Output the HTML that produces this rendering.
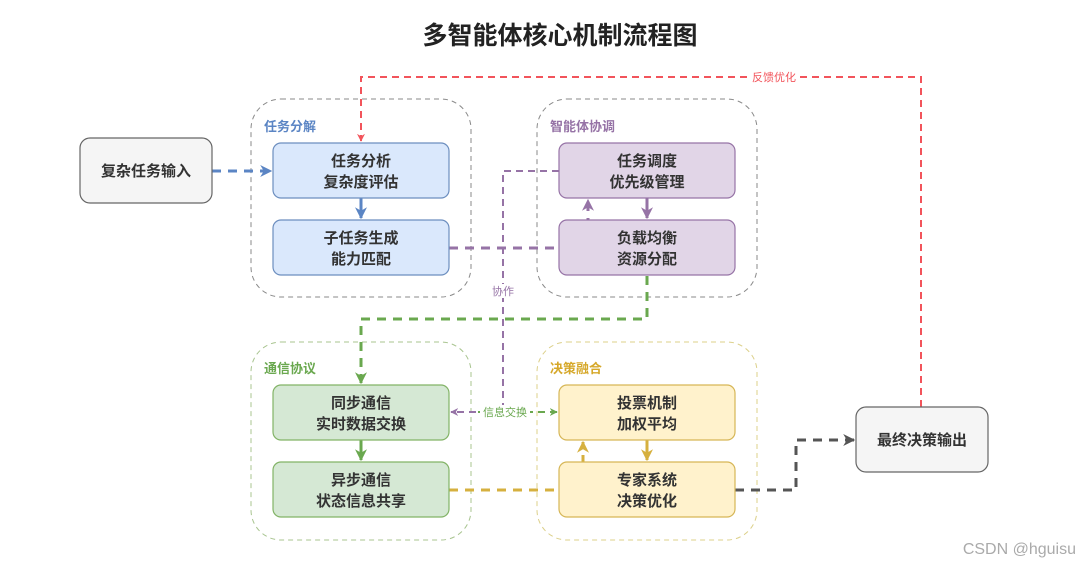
<!DOCTYPE html>
<html><head><meta charset="utf-8">
<style>
html,body{margin:0;padding:0;background:#fff;}
svg{display:block;}
text{font-family:"Liberation Sans","Noto Sans CJK SC",sans-serif;}
.n{font-size:15px;font-weight:bold;fill:#333;text-anchor:middle;}
.g{font-size:13px;font-weight:bold;}
.l{font-size:11px;text-anchor:middle;}
</style></head>
<body>
<svg width="1080" height="566" viewBox="0 0 1080 566" xmlns="http://www.w3.org/2000/svg">
<defs>
<marker id="ab" viewBox="0 0 10 10" refX="9" refY="5" markerWidth="4" markerHeight="4" orient="auto"><path d="M0,0L10,5L0,10L3,5z" fill="#5b85c4"/></marker>
<marker id="ap" viewBox="0 0 10 10" refX="9" refY="5" markerWidth="4" markerHeight="4" orient="auto"><path d="M0,0L10,5L0,10L3,5z" fill="#9673a6"/></marker>
<marker id="ag" viewBox="0 0 10 10" refX="9" refY="5" markerWidth="4" markerHeight="4" orient="auto"><path d="M0,0L10,5L0,10L3,5z" fill="#6aa84f"/></marker>
<marker id="ay" viewBox="0 0 10 10" refX="9" refY="5" markerWidth="4" markerHeight="4" orient="auto"><path d="M0,0L10,5L0,10L3,5z" fill="#d6b03f"/></marker>
<marker id="ak" viewBox="0 0 10 10" refX="9" refY="5" markerWidth="4" markerHeight="4" orient="auto"><path d="M0,0L10,5L0,10L3,5z" fill="#555"/></marker>
<marker id="ar" viewBox="0 0 10 10" refX="9" refY="5" markerWidth="4" markerHeight="4" orient="auto"><path d="M0,0L10,5L0,10L3,5z" fill="#f2545b"/></marker>
</defs>

<text x="560" y="44" text-anchor="middle" style="font-size:25px;font-weight:bold;fill:#222">多智能体核心机制流程图</text>

<!-- groups -->
<g fill="none" stroke="#8a8a8a" stroke-width="1" stroke-dasharray="5,4">
<rect x="251" y="99" width="220" height="198" rx="30"/>
<rect x="537" y="99" width="220" height="198" rx="30"/>
<rect x="251" y="342" width="220" height="198" rx="30" stroke="#a8c48f"/>
<rect x="537" y="342" width="220" height="198" rx="30" stroke="#dcd08a"/>
</g>
<text x="264" y="131" class="g" fill="#5b85c4">任务分解</text>
<text x="550" y="131" class="g" fill="#9673a6">智能体协调</text>
<text x="264" y="373" class="g" fill="#6aa84f">通信协议</text>
<text x="550" y="373" class="g" fill="#d6a82a">决策融合</text>

<!-- connectors -->
<g fill="none" stroke-width="3" stroke-dasharray="9,7">
<path d="M212,171H271" stroke="#5b85c4" marker-end="url(#ab)"/>
<path d="M449,248H588V200" stroke="#9673a6" marker-end="url(#ap)"/>
<path d="M647,276V319H361V383" stroke="#6aa84f" marker-end="url(#ag)"/>
<path d="M449,490H583V442" stroke="#d6b03f" marker-end="url(#ay)"/>
<path d="M735,490H796V440H854" stroke="#555" marker-end="url(#ak)"/>
</g>
<g fill="none" stroke-width="2" stroke-dasharray="7,5">
<path d="M559,171H503V412H451" stroke="#9673a6" marker-end="url(#ap)"/>
<path d="M478,412H557" stroke="#6aa84f" marker-end="url(#ag)"/>
<path d="M921,407V77H361V141" stroke="#f2545b" marker-end="url(#ar)"/>
</g>
<path d="M361,198V218" stroke="#5b85c4" stroke-width="3" marker-end="url(#ab)"/>
<path d="M647,198V218" stroke="#9673a6" stroke-width="3" marker-end="url(#ap)"/>
<path d="M361,440V460" stroke="#6aa84f" stroke-width="3" marker-end="url(#ag)"/>
<path d="M647,440V460" stroke="#d6b03f" stroke-width="3" marker-end="url(#ay)"/>

<rect x="750" y="70" width="48" height="14" fill="#fff"/>
<text x="774" y="81" class="l" fill="#f2545b">反馈优化</text>
<rect x="489" y="284" width="28" height="14" fill="#fff"/>
<text x="503" y="295" class="l" fill="#9673a6">协作</text>
<rect x="480" y="405" width="50" height="14" fill="#fff"/>
<text x="505" y="416" class="l" fill="#6aa84f">信息交换</text>

<!-- nodes -->
<g stroke-width="1.2">
<rect x="80" y="138" width="132" height="65" rx="10" fill="#f5f5f5" stroke="#666"/>
<rect x="856" y="407" width="132" height="65" rx="10" fill="#f5f5f5" stroke="#666"/>
<rect x="273" y="143" width="176" height="55" rx="8" fill="#dae8fc" stroke="#6c8ebf"/>
<rect x="273" y="220" width="176" height="55" rx="8" fill="#dae8fc" stroke="#6c8ebf"/>
<rect x="559" y="143" width="176" height="55" rx="8" fill="#e1d5e7" stroke="#9673a6"/>
<rect x="559" y="220" width="176" height="55" rx="8" fill="#e1d5e7" stroke="#9673a6"/>
<rect x="273" y="385" width="176" height="55" rx="8" fill="#d5e8d4" stroke="#82b366"/>
<rect x="273" y="462" width="176" height="55" rx="8" fill="#d5e8d4" stroke="#82b366"/>
<rect x="559" y="385" width="176" height="55" rx="8" fill="#fff2cc" stroke="#d6b656"/>
<rect x="559" y="462" width="176" height="55" rx="8" fill="#fff2cc" stroke="#d6b656"/>
</g>
<text x="146" y="176" class="n">复杂任务输入</text>
<text x="922" y="445" class="n">最终决策输出</text>
<text class="n" x="361" y="166">任务分析</text><text class="n" x="361" y="187">复杂度评估</text>
<text class="n" x="361" y="243">子任务生成</text><text class="n" x="361" y="264">能力匹配</text>
<text class="n" x="647" y="166">任务调度</text><text class="n" x="647" y="187">优先级管理</text>
<text class="n" x="647" y="243">负载均衡</text><text class="n" x="647" y="264">资源分配</text>
<text class="n" x="361" y="408">同步通信</text><text class="n" x="361" y="429">实时数据交换</text>
<text class="n" x="361" y="485">异步通信</text><text class="n" x="361" y="506">状态信息共享</text>
<text class="n" x="647" y="408">投票机制</text><text class="n" x="647" y="429">加权平均</text>
<text class="n" x="647" y="485">专家系统</text><text class="n" x="647" y="506">决策优化</text>

<text x="1076" y="554" text-anchor="end" style="font-size:16px;fill:#aaa">CSDN @hguisu</text>
</svg>
</body></html>
